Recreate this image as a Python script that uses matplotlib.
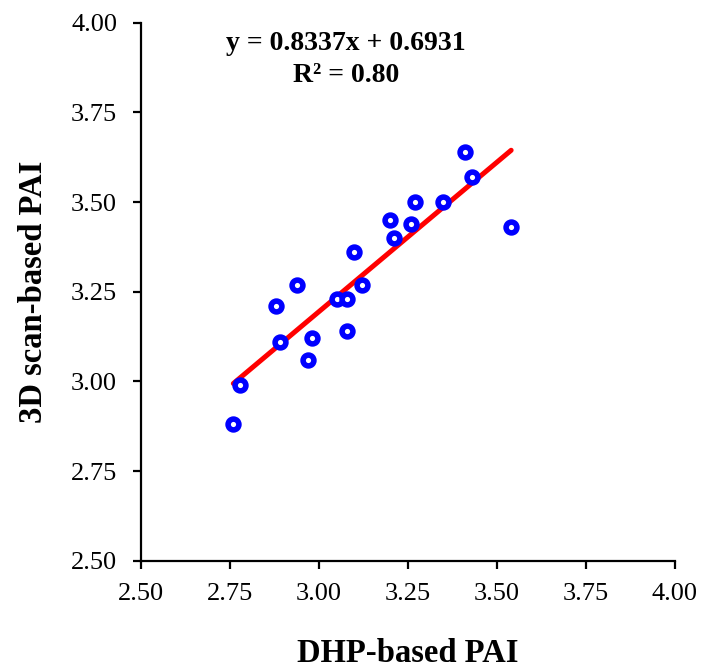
import numpy as np
import matplotlib
matplotlib.use("Agg")
import matplotlib.pyplot as plt

# DHP-based vs 3D scan-based PAI
dhp_pai = [2.76, 2.78, 2.88, 2.89, 2.94, 2.98, 2.97, 3.05, 3.08, 3.08,
           3.12, 3.10, 3.20, 3.21, 3.26, 3.27, 3.35, 3.41, 3.43, 3.54]
scan_pai = [2.88, 2.99, 3.21, 3.11, 3.27, 3.12, 3.06, 3.23, 3.23, 3.14,
            3.27, 3.36, 3.45, 3.40, 3.44, 3.50, 3.50, 3.64, 3.57, 3.43]

slope = 0.8337
intercept = 0.6931
r2 = 0.80

ticks = [2.50, 2.75, 3.00, 3.25, 3.50, 3.75, 4.00]

plt.rcParams["font.family"] = ["Liberation Serif", "DejaVu Serif"]

fig = plt.figure(figsize=(7.04, 6.72), dpi=100)
ax = fig.add_axes([0.1999, 0.1656, 0.7589, 0.8006])

ax.plot(dhp_pai, scan_pai, linestyle="none", marker="o", markersize=7.8,
        markeredgewidth=4.0, markeredgecolor="#0000FF",
        markerfacecolor="white", zorder=3)

x_fit = np.array([min(dhp_pai), max(dhp_pai)])
ax.plot(x_fit, slope * x_fit + intercept, color="#FF0000", linewidth=3.6,
        solid_capstyle="round", zorder=2)

ax.set_xlim(2.5, 4.0)
ax.set_ylim(2.5, 4.0)
ax.set_xticks(ticks)
ax.set_yticks(ticks)
ax.set_xticklabels([f"{t:.2f}" for t in ticks])
ax.set_yticklabels([f"{t:.2f}" for t in ticks])

for side in ("top", "right"):
    ax.spines[side].set_visible(False)
for side in ("left", "bottom"):
    ax.spines[side].set_linewidth(1.6)

ax.tick_params(axis="both", direction="out", length=6, width=1.6,
               labelsize=19)
ax.tick_params(axis="y", pad=11)
ax.tick_params(axis="x", pad=10)

ax.set_xlabel("DHP-based PAI", fontsize=23.5, fontweight="bold", labelpad=24)
ax.set_ylabel("3D scan-based PAI", fontsize=23.5, fontweight="bold",
              labelpad=16)

ax.text(0.384, 0.949, f"y = {slope:.4f}x + {intercept:.4f}",
        transform=ax.transAxes, ha="center", va="baseline", fontsize=20,
        fontweight="bold")
ax.text(0.384, 0.890, f"R² = {r2:.2f}",
        transform=ax.transAxes, ha="center", va="baseline", fontsize=20,
        fontweight="bold")

fig.savefig("out.png", dpi=100)
